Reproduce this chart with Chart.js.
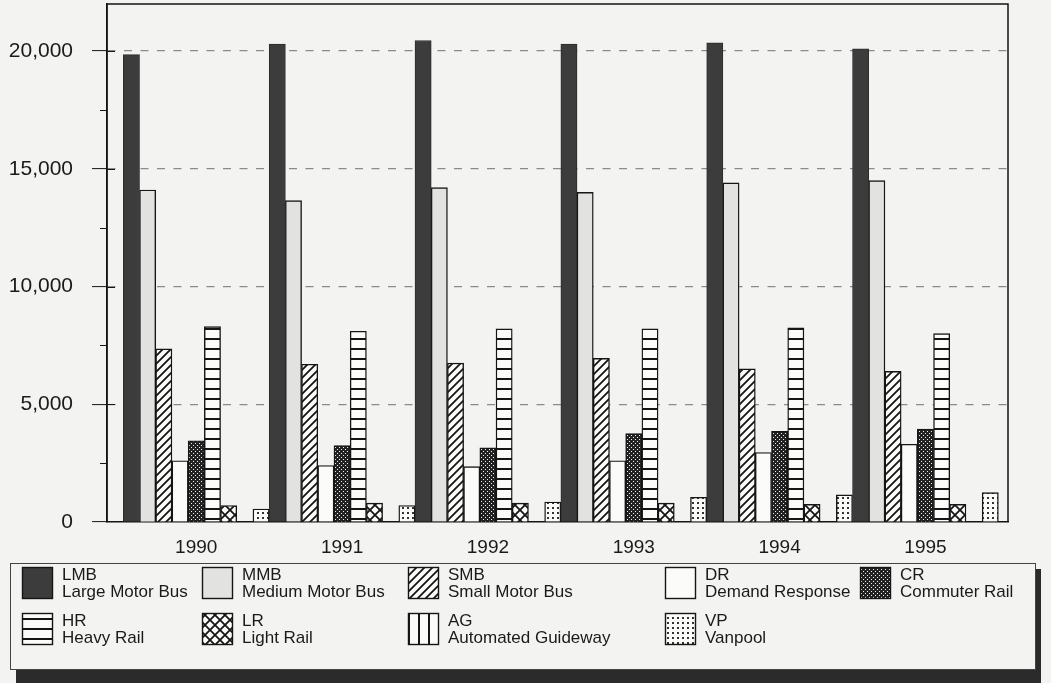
<!DOCTYPE html>
<html>
<head>
<meta charset="utf-8">
<script src="https://cdn.jsdelivr.net/npm/chart.js@4/dist/chart.umd.min.js"></script>
<style>
  html, body { margin: 0; padding: 0; background: #f3f3f1; }
  #wrap { width: 1051px; height: 683px; }
</style>
</head>
<body>
<div id="wrap"><canvas id="chart" width="1051" height="683"></canvas></div>
<script>
const years = ["1990", "1991", "1992", "1993", "1994", "1995"];
const codes = ["LMB", "MMB", "SMB", "DR", "CR", "HR", "LR", "AG", "VP"];
const names = [
  "Large Motor Bus", "Medium Motor Bus", "Small Motor Bus", "Demand Response",
  "Commuter Rail", "Heavy Rail", "Light Rail", "Automated Guideway", "Vanpool",
];

const lmb = [19850, 20300, 20450, 20300, 20350, 20100];
const mmb = [14100, 13650, 14200, 14000, 14400, 14500];
const smb = [7350, 6700, 6750, 6950, 6500, 6400];
const dr = [2600, 2400, 2350, 2600, 2950, 3300];
const cr = [3450, 3250, 3150, 3750, 3850, 3950];
const hr = [8300, 8100, 8200, 8200, 8250, 8000];
const lr = [700, 800, 800, 800, 750, 750];
const ag = [0, 0, 0, 0, 0, 0];
const vp = [550, 700, 850, 1050, 1150, 1250];

const yTicks = [0, 5000, 10000, 15000, 20000];

const BG = "#f3f3f1";
const INK = "#151515";

function makePattern(size, draw) {
  const c = document.createElement("canvas");
  c.width = size;
  c.height = size;
  const g = c.getContext("2d");
  g.fillStyle = "#fbfbf9";
  g.fillRect(0, 0, size, size);
  g.fillStyle = INK;
  g.strokeStyle = INK;
  draw(g, size);
  return g.createPattern(c, "repeat");
}

const hatch = makePattern(8, (g, s) => {
  g.lineWidth = 1.8;
  g.beginPath();
  g.moveTo(0, s); g.lineTo(s, 0);
  g.moveTo(-2, 2); g.lineTo(2, -2);
  g.moveTo(s - 2, s + 2); g.lineTo(s + 2, s - 2);
  g.stroke();
});
const cross = makePattern(10, (g, s) => {
  g.lineWidth = 1.8;
  g.beginPath();
  g.moveTo(0, 0); g.lineTo(s, s);
  g.moveTo(0, s); g.lineTo(s, 0);
  g.stroke();
});
const hlines = makePattern(10, (g, s) => g.fillRect(0, 8, s, 2));
const vlines = makePattern(10, (g, s) => g.fillRect(8, 0, 2, s));
const checker = makePattern(4, (g) => {
  g.fillStyle = "#222";
  g.fillRect(0, 0, 4, 4);
  g.fillStyle = "#f0f0ee";
  g.fillRect(1, 1, 1, 1);
  g.fillRect(3, 3, 1, 1);
});
const dots = makePattern(5, (g) => {
  g.fillStyle = "#333";
  g.fillRect(2, 2, 2, 2);
});

const series = [lmb, mmb, smb, dr, cr, hr, lr, ag, vp];
const fills = ["#3c3c3c", "#e2e2e0", hatch, "#fbfbf9", checker, hlines, cross, vlines, dots];

const datasets = series.map((vals, k) => ({
  label: codes[k],
  fullName: names[k],
  data: vals.map((v, i) => ({ x: i, y: v })),
  backgroundColor: fills[k],
  borderColor: k === 0 ? "#2c2c2c" : INK,
  borderWidth: k === 0 ? 1 : 1.4,
  categoryPercentage: 1,
  barPercentage: 1,
}));

// frame, inner/minor ticks and the boxed legend under the plot
const extras = {
  id: "extras",
  afterDraw(chart) {
    const { ctx, chartArea: a } = chart;
    const y = chart.scales.y;
    ctx.save();
    ctx.strokeStyle = INK;
    ctx.lineWidth = 1.5;
    ctx.beginPath();
    ctx.moveTo(a.left, a.bottom);
    ctx.lineTo(a.left, a.top);
    ctx.lineTo(a.right, a.top);
    ctx.lineTo(a.right, a.bottom);
    ctx.stroke();

    ctx.lineWidth = 1;
    ctx.beginPath();
    yTicks.forEach((v) => {
      const py = Math.round(y.getPixelForValue(v)) + 0.5;
      if (v > 0) {
        ctx.moveTo(a.left, py);
        ctx.lineTo(a.left + 8, py);
      }
      const mid = v + (yTicks[1] - yTicks[0]) / 2;
      if (mid < y.max) {
        const pm = Math.round(y.getPixelForValue(mid)) + 0.5;
        ctx.moveTo(a.left - 7, pm);
        ctx.lineTo(a.left, pm);
      }
    });
    ctx.stroke();

    // legend box with a dark drop shadow
    const bx = 10, by = 563, bw = 1025, bh = 106;
    ctx.fillStyle = "#2b2b2b";
    ctx.fillRect(bx + 6, by + 6, bw, bh + 20);
    ctx.fillStyle = BG;
    ctx.fillRect(bx, by, bw, bh);
    ctx.strokeStyle = "#444";
    ctx.lineWidth = 1;
    ctx.strokeRect(bx + 0.5, by + 0.5, bw, bh);

    const colX = [22, 202, 408, 665, 860];
    const rowY = [567, 613];
    ctx.font = '17px "Liberation Sans", Arial, sans-serif';
    ctx.textBaseline = "middle";
    ctx.textAlign = "left";
    chart.data.datasets.forEach((ds, k) => {
      const col = k < 5 ? k : k - 5;
      const row = k < 5 ? 0 : 1;
      const ix = colX[col], iy = rowY[row];
      ctx.fillStyle = ds.backgroundColor;
      ctx.fillRect(ix, iy, 30, 31);
      ctx.strokeStyle = INK;
      ctx.lineWidth = 1.4;
      ctx.strokeRect(ix + 0.5, iy + 0.5, 30, 31);
      ctx.fillStyle = "#1a1a1a";
      ctx.fillText(ds.label, ix + 40, iy + 8);
      ctx.fillText(ds.fullName, ix + 40, iy + 25);
    });
    ctx.restore();
  },
};

Chart.defaults.font.family = '"Liberation Sans", Arial, sans-serif';
Chart.defaults.color = "#1a1a1a";

new Chart(document.getElementById("chart"), {
  type: "bar",
  data: { datasets },
  options: {
    responsive: false,
    animation: false,
    layout: { padding: { top: 4, right: 43, bottom: 121, left: 0 } },
    plugins: {
      legend: { display: false },
      tooltip: { enabled: false },
    },
    scales: {
      x: {
        type: "linear",
        offset: false,
        bounds: "data",
        min: -0.612,
        max: 5.566,
        afterBuildTicks: (s) => {
          s.ticks = years.map((_, i) => ({ value: i }));
        },
        afterFit: (s) => {
          s.height = 40;
          s.paddingLeft = 0;
          s.paddingRight = 0;
        },
        grid: { display: false, drawTicks: false },
        border: { display: true, color: INK, width: 1.5 },
        ticks: {
          padding: 14,
          autoSkip: false,
          maxRotation: 0,
          font: { size: 19 },
          color: "#1a1a1a",
          callback: (v) => years[v],
        },
      },
      y: {
        min: 0,
        max: 22000,
        afterBuildTicks: (s) => {
          s.ticks = yTicks.map((v) => ({ value: v }));
        },
        afterFit: (s) => {
          s.width = 107;
          s.paddingTop = 0;
          s.paddingBottom = 0;
        },
        grid: {
          color: (c) => (c.tick && c.tick.value === 0 ? "rgba(0,0,0,0)" : "#8a8a8a"),
          lineWidth: 1.2,
          tickColor: INK,
          tickLength: 15,
          tickWidth: 1,
          tickBorderDash: [],
        },
        border: { display: true, color: INK, width: 1.5, dash: [8, 8.5] },
        ticks: {
          padding: 19,
          font: { size: 21 },
          color: "#1a1a1a",
          callback: (v) => v.toLocaleString("en-US"),
        },
      },
    },
  },
  plugins: [extras],
});
</script>
</body>
</html>
